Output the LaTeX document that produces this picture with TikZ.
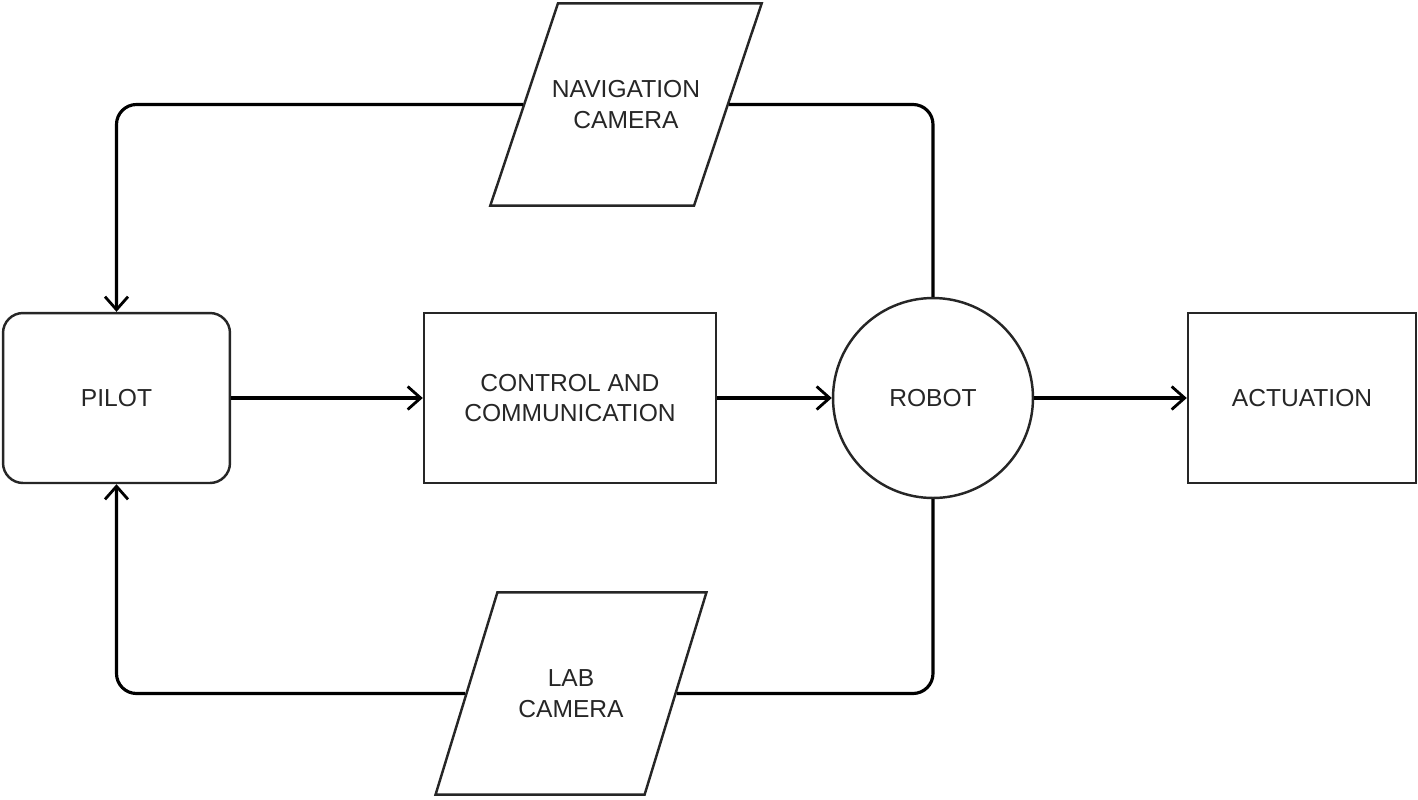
\documentclass[tikz,border=0pt]{standalone}
\usepackage{fontspec}
\setmainfont{Liberation Sans}
\usetikzlibrary{shapes.geometric,arrows.meta,positioning}
\begin{document}
\begin{tikzpicture}[x=0.02cm,y=-0.02cm,
    block/.style={draw=black!85,line width=1.4pt,align=center,
      text=black!85,font=\fontsize{14pt}{17.5pt}\selectfont},
    box/.style={block,minimum height=3.4cm},
    camera/.style={block,trapezium,trapezium left angle=#1,trapezium right angle=180-#1,
      inner ysep=0pt,text height=71.3pt,text depth=43.8pt},
    link/.style={line width=1.8pt,rounded corners=0.4cm},
    arrowtip/.style={-{Straight Barb[length=2.6mm,width=4.6mm,line width=1.6pt]}}]
  \useasboundingbox (0,0) rectangle (1418,799);
  \node[box,rounded corners=0.4cm,minimum width=4.54cm] (pilot) at (116.5,398) {PILOT};
  \node[box,minimum width=5.84cm] (ctrl) at (570,398) {CONTROL AND\\COMMUNICATION};
  \node[box,circle,minimum size=4cm] (robot) at (933,398) {ROBOT};
  \node[box,minimum width=4.56cm] (act) at (1302,398) {ACTUATION};
  \node[camera=71.5,inner xsep=-0.12cm] (nav) at (626,104.5) {NAVIGATION\\CAMERA};
  \node[camera=73,inner xsep=0.42cm] (lab) at (571,693.5) {LAB\\CAMERA};
  \draw[link,arrowtip] (pilot) -- (ctrl);
  \draw[link,arrowtip] (ctrl) -- (robot);
  \draw[link,arrowtip] (robot) -- (act);
  \draw[link] (robot.north) |- (nav.east);
  \draw[link,arrowtip] (nav.west) -| (pilot.north);
  \draw[link] (robot.south) |- (lab.east);
  \draw[link,arrowtip] (lab.west) -| (pilot.south);
\end{tikzpicture}
\end{document}
